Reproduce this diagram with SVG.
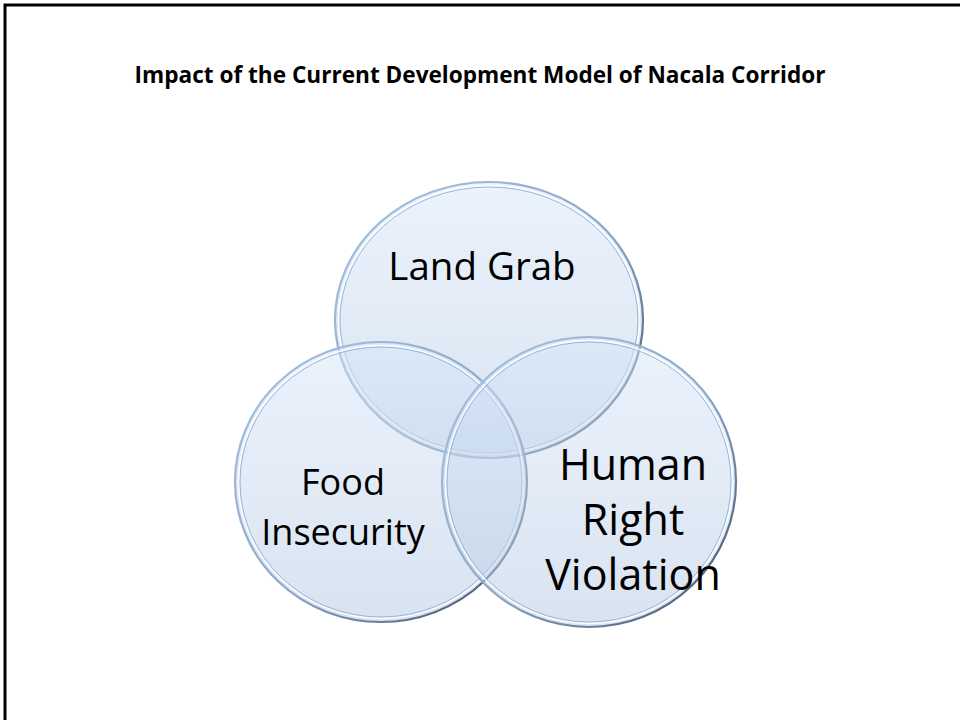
<svg xmlns="http://www.w3.org/2000/svg" width="960" height="720" viewBox="0 0 960 720">
<style>
.title{font-family:"Open Sans","Liberation Sans",sans-serif;font-weight:bold;font-size:22.6px;fill:#000}
.lbl{font-family:"Open Sans","Liberation Sans",sans-serif;fill:#000;text-anchor:middle}
.fill{fill:url(#fillGrad);fill-opacity:0.5}
.edge{fill:none;stroke:url(#edgeGrad);stroke-width:2.2}
.hl{fill:none;stroke:#ffffff;stroke-width:1.5;stroke-opacity:0.9}
.rim{fill:none;stroke:#9bb6d8;stroke-width:1}
</style>
<defs>
<linearGradient id="fillGrad" x1="0" y1="0" x2="0" y2="1">
<stop offset="0" stop-color="#d6e7f9"/>
<stop offset="1" stop-color="#b4c8e2"/>
</linearGradient>
<linearGradient id="edgeGrad" x1="0" y1="0" x2="1" y2="1">
<stop offset="0" stop-color="#a9c3e2"/>
<stop offset="0.55" stop-color="#8aa6c8"/>
<stop offset="1" stop-color="#3c4a5c"/>
</linearGradient>
</defs>
<rect width="960" height="720" fill="#ffffff"/>
<path d="M5,720 V5 H960" fill="none" stroke="#000" stroke-width="3"/>
<text class="title" x="480" y="83" text-anchor="middle">Impact of the Current Development Model of Nacala Corridor</text>
<g id="land-grab">
<ellipse class="fill" cx="489" cy="320" rx="154" ry="138"/>
<ellipse class="edge" cx="489" cy="320" rx="154" ry="138"/>
<ellipse class="hl" cx="489" cy="320" rx="150.5" ry="134.5"/>
<ellipse class="rim" cx="489" cy="320" rx="149" ry="133"/>
<text class="lbl" x="482" y="280" font-size="38.5">Land Grab</text>
</g>
<g id="food-insecurity">
<ellipse class="fill" cx="381" cy="482" rx="146" ry="140"/>
<ellipse class="edge" cx="381" cy="482" rx="146" ry="140"/>
<ellipse class="hl" cx="381" cy="482" rx="142.5" ry="136.5"/>
<ellipse class="rim" cx="381" cy="482" rx="141" ry="135"/>
<text class="lbl" x="343" y="495" font-size="36">Food</text>
<text class="lbl" x="343" y="545" font-size="36">Insecurity</text>
</g>
<g id="human-right-violation">
<ellipse class="fill" cx="589" cy="482" rx="147" ry="145"/>
<ellipse class="edge" cx="589" cy="482" rx="147" ry="145"/>
<ellipse class="hl" cx="589" cy="482" rx="143.5" ry="141.5"/>
<ellipse class="rim" cx="589" cy="482" rx="142" ry="140"/>
<text class="lbl" x="633" y="480" font-size="43">Human</text>
<text class="lbl" x="633" y="535" font-size="43">Right</text>
<text class="lbl" x="633" y="590" font-size="43">Violation</text>
</g>
<g id="connectors"/>
</svg>
